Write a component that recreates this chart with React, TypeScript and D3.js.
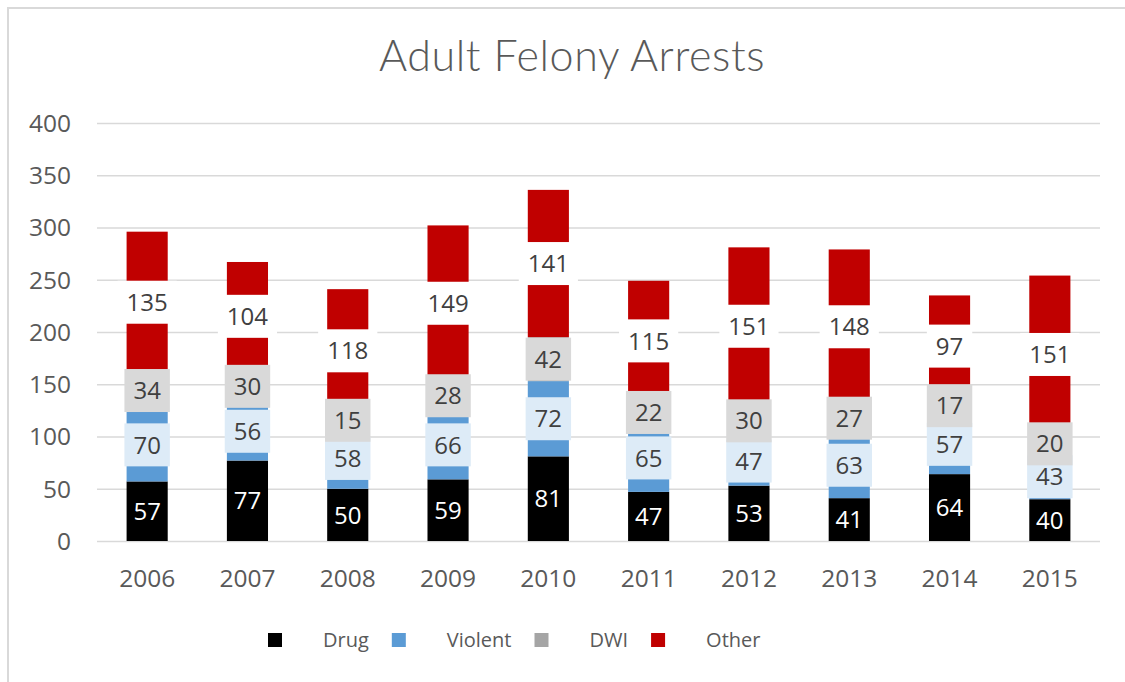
import React, { useEffect, useRef } from "react";
import * as d3 from "d3";

const years = ["2006", "2007", "2008", "2009", "2010", "2011", "2012", "2013", "2014", "2015"];
const drug = [57, 77, 50, 59, 81, 47, 53, 41, 64, 40];
const violent = [70, 56, 58, 66, 72, 65, 47, 63, 57, 43];
const dwi = [34, 30, 15, 28, 42, 22, 30, 27, 17, 20];
const other = [135, 104, 118, 149, 141, 115, 151, 148, 97, 151];
const seriesNames = ["Drug", "Violent", "DWI", "Other"];
const yTicks = [0, 50, 100, 150, 200, 250, 300, 350, 400];

const colors = ["#000000", "#5b9bd5", "#a5a5a5", "#c00000"];
const labelBg = ["none", "#ddebf7", "#d9d9d9", "#ffffff"];
const labelColor = ["#ffffff", "#404040", "#404040", "#404040"];

const FONT = "'Open Sans', 'Liberation Sans', sans-serif";

export default function App() {
  const ref = useRef<SVGSVGElement>(null);

  useEffect(() => {
    const width = 1125;
    const height = 682;
    const margin = { top: 123, right: 25, bottom: 141, left: 97 };
    const innerWidth = width - margin.left - margin.right;
    const innerHeight = height - margin.top - margin.bottom;

    const svg = d3.select(ref.current).attr("width", width).attr("height", height);
    svg.selectAll("*").remove();

    svg.append("rect").attr("width", width).attr("height", height).attr("fill", "#fff");
    // chart frame (only top and left edges show in the picture)
    svg.append("rect")
      .attr("x", 8).attr("y", 8)
      .attr("width", width + 20).attr("height", height + 20)
      .attr("fill", "none").attr("stroke", "#d9d9d9").attr("stroke-width", 2);

    svg.append("text")
      .attr("x", 572).attr("y", 71)
      .attr("text-anchor", "middle")
      .style("font-family", "Lato, 'Open Sans', sans-serif").style("font-weight", 300)
      .style("font-size", "43px").style("letter-spacing", "0.6px").attr("fill", "#595959")
      .text("Adult Felony Arrests");

    const table = years.map((y, i) => ({
      year: y, Drug: drug[i], Violent: violent[i], DWI: dwi[i], Other: other[i],
    }));
    const stacked = d3.stack<any>().keys(seriesNames)(table);

    const x = d3.scaleBand().domain(years).range([0, innerWidth]).paddingInner(0.59).paddingOuter(0.295);
    const y = d3.scaleLinear().domain([0, 400]).range([innerHeight, 0]);

    const g = svg.append("g").attr("transform", `translate(${margin.left},${margin.top})`);

    g.selectAll(".grid").data(yTicks).join("line")
      .attr("x1", 0).attr("x2", innerWidth)
      .attr("y1", d => y(d) + 0.5).attr("y2", d => y(d) + 0.5)
      .attr("stroke", "#d9d9d9").attr("stroke-width", 1.5);

    g.selectAll(".ytick").data(yTicks).join("text")
      .attr("x", -26).attr("y", d => y(d))
      .attr("dy", "0.36em").attr("text-anchor", "end")
      .style("font-family", FONT).style("font-size", "24.5px").attr("fill", "#595959")
      .text(d => d);

    g.selectAll(".xtick").data(years).join("text")
      .attr("x", d => x(d)! + x.bandwidth() / 2).attr("y", innerHeight + 37)
      .attr("dy", "0.36em").attr("text-anchor", "middle")
      .style("font-family", FONT).style("font-size", "24.5px").attr("fill", "#595959")
      .text(d => d);

    stacked.forEach((s, si) => {
      g.append("g").selectAll("rect").data(s).join("rect")
        .attr("x", d => x(d.data.year)!)
        .attr("width", x.bandwidth())
        .attr("y", d => y(d[1]))
        .attr("height", d => y(d[0]) - y(d[1]))
        .attr("fill", colors[si]);
    });

    stacked.forEach((s, si) => {
      const lg = g.append("g");
      s.forEach(d => {
        const cx = x(d.data.year)! + x.bandwidth() / 2;
        const cy = y((d[0] + d[1]) / 2);
        const val = d[1] - d[0];
        const box = lg.append("rect");
        const t = lg.append("text")
          .attr("x", cx).attr("y", cy).attr("dy", "0.36em")
          .attr("text-anchor", "middle")
          .style("font-family", FONT).style("font-size", "24px")
          .attr("fill", labelColor[si])
          .text(val);
        const tw = (t.node() as SVGTextElement).getComputedTextLength();
        box.attr("x", cx - tw / 2 - 9).attr("y", cy - 21.5)
          .attr("width", tw + 18).attr("height", 43)
          .attr("fill", labelBg[si]);
      });
    });

    // legend
    const legend = svg.append("g");
    let lx = 268;
    seriesNames.forEach((name, i) => {
      legend.append("rect")
        .attr("x", lx).attr("y", 633).attr("width", 14).attr("height", 14)
        .attr("fill", colors[i]);
      const t = legend.append("text")
        .attr("x", lx + 55).attr("y", 640).attr("dy", "0.36em")
        .style("font-family", FONT).style("font-size", "20px").attr("fill", "#595959")
        .text(name);
      const tw = (t.node() as SVGTextElement).getComputedTextLength();
      lx = lx + 55 + tw + 23;
    });
  }, []);

  return (
    <div style={{ position: "absolute", left: 0, top: 0 }}>
      <svg ref={ref}></svg>
    </div>
  );
}
